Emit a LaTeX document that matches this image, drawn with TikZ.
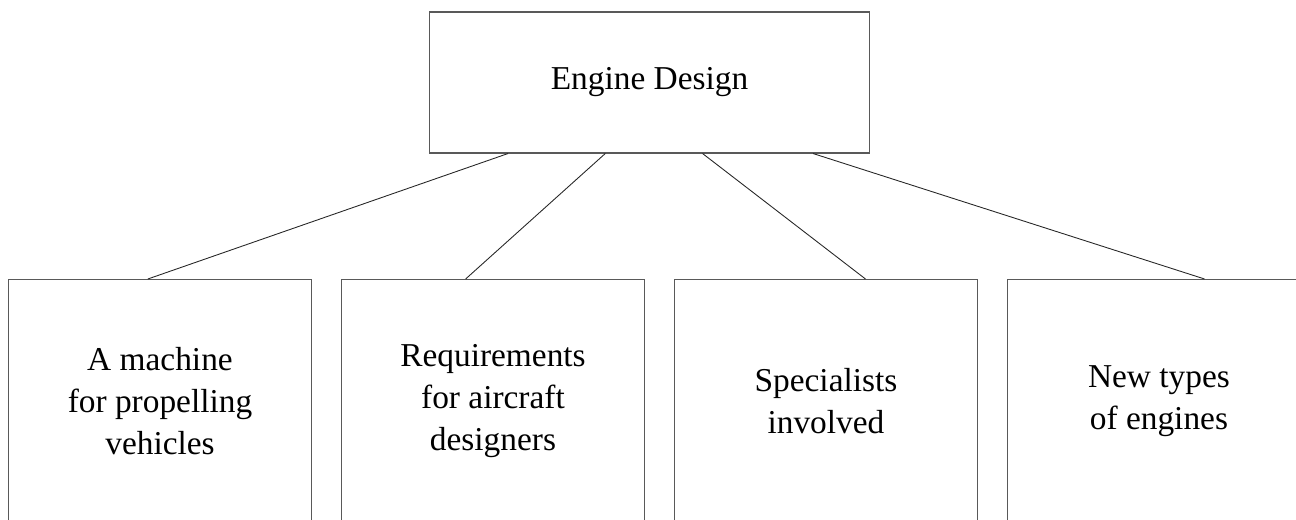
\documentclass[tikz,border=0pt]{standalone}
\usepackage{fontspec}
\setmainfont{Liberation Serif}
\usetikzlibrary{positioning, calc}

\begin{document}
\begin{tikzpicture}[
    x=0.02cm, y=-0.02cm,
    node distance=0.58cm,
    topic/.style={rectangle, draw=black!65, line width=0.6pt, minimum width=8.82cm, minimum height=2.82cm, text centered, font=\fontsize{19}{24}\selectfont},
    branch/.style={rectangle, draw=black!65, line width=0.6pt, minimum width=6.06cm, minimum height=4.86cm, align=center, font=\fontsize{19}{24}\selectfont},
    link/.style={draw=black!85, line width=0.5pt}
]
    \useasboundingbox (0,0) rectangle (1296,520);
    \clip (0,0) rectangle (1296,520);

    \node[topic] (design) at (649.5,82.5) {Engine Design};
    \node[branch, anchor=north west] (machine) at (8,279) {A machine\\for propelling\\vehicles};
    \node[branch, right=of machine] (needs) {Requirements\\for aircraft\\designers};
    \node[branch, right=of needs] (experts) {Specialists\\involved};
    \node[branch, right=of experts] (types) {New types\\of engines};

    \draw[link] ($(design.south west)!0.18!(design.south east)$) -- ($(machine.north west)!0.46!(machine.north east)$);
    \draw[link] ($(design.south west)!0.40!(design.south east)$) -- ($(needs.north west)!0.41!(needs.north east)$);
    \draw[link] ($(design.south west)!0.62!(design.south east)$) -- ($(experts.north west)!0.63!(experts.north east)$);
    \draw[link] ($(design.south west)!0.87!(design.south east)$) -- ($(types.north west)!0.65!(types.north east)$);
\end{tikzpicture}
\end{document}
